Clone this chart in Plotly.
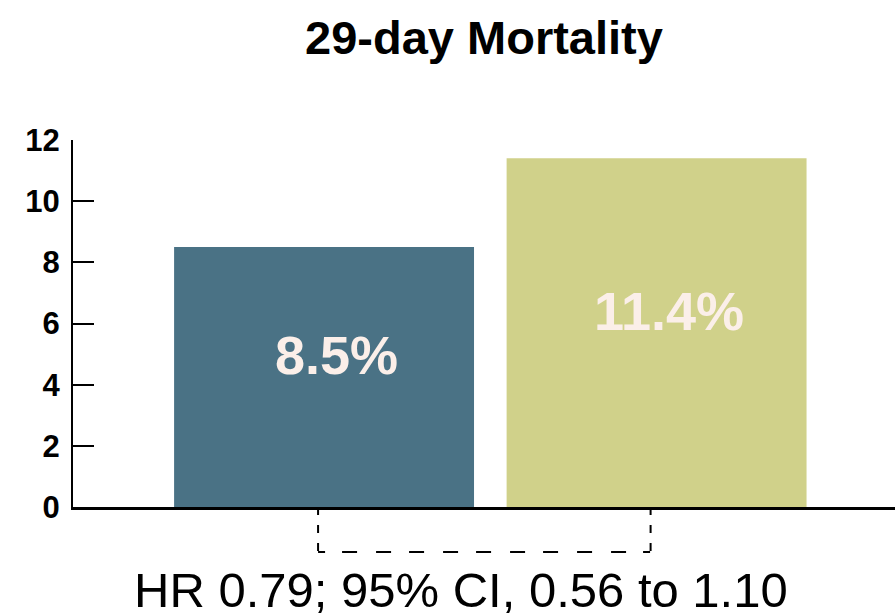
import plotly.graph_objects as go

# Data
groups = ["Group A", "Group B"]
mortality = [8.5, 11.4]
bar_labels = ["8.5%", "11.4%"]
y_ticks = [0, 2, 4, 6, 8, 10, 12]
title_text = "29-day Mortality"
hr_text = "HR 0.79; 95% CI, 0.56 to 1.10"

colors = ["#4a7285", "#d0d18a"]
x_pos = list(range(len(groups)))
x_range = [-0.755, 1.717]
FONT = "Liberation Sans, Arial, sans-serif"

W, H = 895, 614

fig = go.Figure()
fig.add_trace(go.Bar(
    x=x_pos, y=mortality, width=0.902,
    marker=dict(color=colors, line=dict(width=0)),
    hoverinfo="skip", showlegend=False,
))

# labels inside bars
for xi, v, lab in zip(x_pos, mortality, bar_labels):
    fig.add_annotation(
        x=xi + 0.038, y=v / 2 + 0.72, xref="x", yref="y",
        text=lab, showarrow=False,
        font=dict(family=FONT, size=54, color="#fbefe9", weight="bold"),
        xanchor="center", yanchor="middle",
    )

def to_paper(x):
    return (x - x_range[0]) / (x_range[1] - x_range[0])

# dashed comparison bracket between the two bars
bx0 = to_paper(x_pos[0] - 0.018)
bx1 = to_paper(x_pos[1] - 0.018)
by = -0.1226
vdash = "8px,10px"
hdash = ("7px,17px,15px,19px,15px,18px,15px,19px,15px,18px,15px,19px,"
         "15px,18px,15px,19px,15px,19px,15px,17px,7px,60px")
for bx in (bx0, bx1):
    fig.add_shape(type="line", xref="paper", yref="paper",
                  x0=bx, x1=bx, y0=0, y1=by,
                  line=dict(color="black", width=2, dash=vdash))
fig.add_shape(type="line", xref="paper", yref="paper",
              x0=bx0, x1=bx1, y0=by, y1=by,
              line=dict(color="black", width=2, dash=hdash))

fig.add_annotation(
    x=0.472, y=-0.226, xref="paper", yref="paper",
    text=hr_text, showarrow=False,
    font=dict(family=FONT, size=49, color="black"),
    xanchor="center", yanchor="middle",
)

fig.update_layout(
    width=W, height=H,
    margin=dict(l=73, r=0, t=140, b=107),
    paper_bgcolor="white", plot_bgcolor="white",
    title=dict(
        text=title_text, x=0.5, xref="paper", xanchor="center",
        y=1 - 38 / H, yref="container", yanchor="middle",
        font=dict(family=FONT, size=47, color="black", weight="bold"),
    ),
    xaxis=dict(
        range=x_range, showticklabels=False, ticks="", showgrid=False,
        zeroline=False, showline=True, linecolor="black", linewidth=2.5,
        fixedrange=True,
    ),
    yaxis=dict(
        range=[0, 12], tickvals=y_ticks, ticktext=[str(t) for t in y_ticks],
        ticks="inside", ticklen=21, tickwidth=2, tickcolor="black",
        showgrid=False, zeroline=False, showline=True, linecolor="black",
        linewidth=2, ticklabelstandoff=5,
        tickfont=dict(family=FONT, size=31, color="black", weight="bold"),
        fixedrange=True,
    ),
)

fig.write_html(
    "out.html",
    config={"displayModeBar": False},
    post_script="document.body.style.margin='0';document.body.style.overflow='hidden';",
)
